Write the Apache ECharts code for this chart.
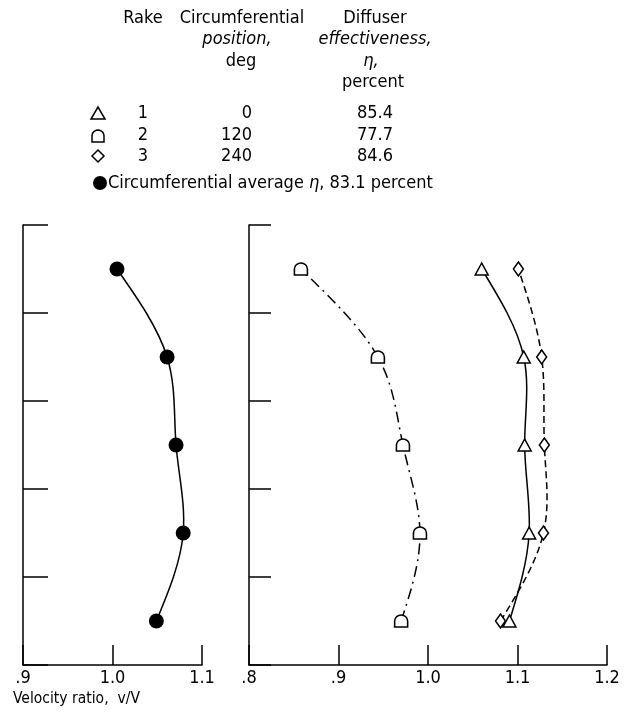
<!DOCTYPE html>
<html>
<head>
<meta charset="utf-8">
<script src="https://cdn.jsdelivr.net/npm/echarts@6/dist/echarts.min.js"></script>
<style>
  html, body { margin: 0; padding: 0; background: #fff; }
  #chart { width: 627px; height: 714px; }
</style>
</head>
<body>
<div id="chart"></div>
<script>
// survey stations (bottom to top), no labels on vertical axis
const stations = [0.5, 1.5, 2.5, 3.5, 4.5]
// velocity ratio v/V for each rake, bottom to top
const averageRatio = [1.049, 1.079, 1.071, 1.061, 1.005]
const rake1Ratio = [1.091, 1.113, 1.108, 1.107, 1.060]
const rake2Ratio = [0.970, 0.991, 0.972, 0.944, 0.858]
const rake3Ratio = [1.081, 1.129, 1.130, 1.127, 1.101]
// legend table
const rakes = ['1', '2', '3']
const positions = ['0', '120', '240']
const effectiveness = ['85.4', '77.7', '84.6']
const averageEta = '83.1'

const FONT = "'Liberation Sans Narrow', 'DejaVu Sans Condensed', sans-serif"
const pair = (xs) => xs.map((v, i) => [v, stations[i]])
const tickFmt = (v) => {
  const s = (Math.round(v * 10) / 10).toFixed(1)
  return v < 1 ? s.slice(1) : s
}

const dShape = 'path://M0,12 L0,6 A6,6 0 0 1 12,6 L12,12 Z'
const hollow = { color: '#fff', borderColor: '#000', borderWidth: 1.5, opacity: 1 }

function xAxisCfg(idx, min, max) {
  return {
    gridIndex: idx,
    type: 'value',
    min: min,
    max: max,
    interval: 0.1,
    axisLine: { lineStyle: { color: '#000', width: 1.5 } },
    axisTick: { inside: true, length: 20, lineStyle: { color: '#000', width: 1.5 } },
    axisLabel: { color: '#000', fontSize: 18, fontFamily: FONT, margin: 4, formatter: tickFmt },
    splitLine: { show: false }
  }
}
function yAxisCfg(idx, len) {
  return {
    gridIndex: idx,
    type: 'value',
    min: 0,
    max: 5,
    interval: 1,
    axisLine: { lineStyle: { color: '#000', width: 1.5 } },
    axisTick: { inside: true, length: len, lineStyle: { color: '#000', width: 1.5 } },
    axisLabel: { show: false },
    splitLine: { show: false }
  }
}

// faired curve: natural cubic spline x(y) through the projected points
function splineSlopes(px) {
  // px: [[x, y], ...] with y evenly spaced (pixel space)
  const n = px.length
  const h = px[1][1] - px[0][1]
  const M = new Array(n).fill(0)
  if (n > 2) {
    const a = [], b = [], c = [], d = []
    for (let i = 1; i < n - 1; i++) {
      a.push(1); b.push(4); c.push(1)
      d.push(6 * (px[i + 1][0] - 2 * px[i][0] + px[i - 1][0]) / (h * h))
    }
    const m = d.length
    for (let i = 1; i < m; i++) {
      const w = a[i] / b[i - 1]
      b[i] -= w * c[i - 1]
      d[i] -= w * d[i - 1]
    }
    const sol = new Array(m)
    sol[m - 1] = d[m - 1] / b[m - 1]
    for (let i = m - 2; i >= 0; i--) sol[i] = (d[i] - c[i] * sol[i + 1]) / b[i]
    for (let i = 0; i < m; i++) M[i + 1] = sol[i]
  }
  const s = []
  for (let i = 0; i < n; i++) {
    if (i < n - 1) s.push((px[i + 1][0] - px[i][0]) / h - h * (2 * M[i] + M[i + 1]) / 6)
    else s.push((px[i][0] - px[i - 1][0]) / h + h * (M[i - 1] + 2 * M[i]) / 6)
  }
  return { h: h, s: s }
}
function curveSeries(xs, idx, dash) {
  const pts = pair(xs)
  return {
    type: 'custom', xAxisIndex: idx, yAxisIndex: idx,
    data: pts, encode: { x: 0, y: 1 }, silent: true, z: 1,
    renderItem: function (params, api) {
      const i = params.dataIndex
      if (i >= pts.length - 1) return null
      const px = pts.map((p) => api.coord(p))
      const sp = splineSlopes(px)
      const h3 = sp.h / 3
      const p1 = px[i], p2 = px[i + 1]
      return {
        type: 'bezierCurve',
        shape: {
          x1: p1[0], y1: p1[1], x2: p2[0], y2: p2[1],
          cpx1: p1[0] + h3 * sp.s[i], cpy1: p1[1] + h3,
          cpx2: p2[0] - h3 * sp.s[i + 1], cpy2: p2[1] - h3
        },
        style: { stroke: '#000', fill: 'none', lineWidth: 1.5, lineDash: dash || null }
      }
    }
  }
}
function markerSeries(xs, idx, symbol, size, style) {
  return {
    type: 'scatter', xAxisIndex: idx, yAxisIndex: idx, z: 3,
    data: pair(xs), symbol: symbol, symbolSize: size, itemStyle: style
  }
}

// legend icons
function dPolygon(cx, cy, w, h) {
  const r = w / 2
  const pts = [[cx - r, cy + h / 2], [cx - r, cy + h / 2 - (h - r)]]
  for (let a = 180; a >= 0; a -= 15) {
    const t = a * Math.PI / 180
    pts.push([cx + r * Math.cos(t), cy + h / 2 - (h - r) - r * Math.sin(t)])
  }
  pts.push([cx + r, cy + h / 2])
  return pts
}
const txt = (x, y, s, opt) => Object.assign({
  type: 'text', x: x, y: y,
  style: Object.assign({ text: s, fill: '#000', font: '18px ' + FONT, textAlign: 'center', textVerticalAlign: 'middle' }, opt || {})
})
const italic = { font: 'italic 18px ' + FONT }

const graphics = [
  txt(143, 18, 'Rake'),
  txt(242, 18, 'Circumferential'),
  txt(237, 39, 'position,', italic),
  txt(241, 61, 'deg'),
  txt(375, 18, 'Diffuser'),
  txt(375, 39, 'effectiveness,', italic),
  txt(371, 61, 'η,', italic),
  txt(373, 82, 'percent'),
  { type: 'polygon', shape: { points: [[91, 119], [105, 119], [98, 107]] }, style: { fill: '#fff', stroke: '#000', lineWidth: 1.5 } },
  { type: 'polygon', shape: { points: dPolygon(98, 136, 12, 12) }, style: { fill: '#fff', stroke: '#000', lineWidth: 1.5 } },
  { type: 'polygon', shape: { points: [[98, 150], [104, 156], [98, 162], [92, 156]] }, style: { fill: '#fff', stroke: '#000', lineWidth: 1.5 } },
  { type: 'circle', shape: { cx: 100, cy: 183, r: 7 }, style: { fill: '#000' } },
  {
    type: 'text', x: 108, y: 183,
    style: {
      text: '{a|Circumferential average }{b|η}{a|, ' + averageEta + ' percent}',
      textVerticalAlign: 'middle',
      rich: {
        a: { font: '18px ' + FONT, fill: '#000' },
        b: { font: 'italic 18px ' + FONT, fill: '#000' }
      }
    }
  },
  txt(13, 699, 'Velocity ratio,  v/V', { textAlign: 'left', font: '15.5px ' + FONT })
]
const rowY = [113, 135, 156]
rakes.forEach((r, i) => {
  graphics.push(txt(143, rowY[i], r))
  graphics.push(txt(252, rowY[i], positions[i], { textAlign: 'right' }))
  graphics.push(txt(375, rowY[i], effectiveness[i]))
})

const chart = echarts.init(document.getElementById('chart'))
chart.setOption({
  animation: false,
  backgroundColor: '#fff',
  grid: [
    { left: 23, top: 225, width: 179, height: 440 },
    { left: 249, top: 225, width: 358, height: 440 }
  ],
  xAxis: [xAxisCfg(0, 0.9, 1.1), xAxisCfg(1, 0.8, 1.2)],
  yAxis: [yAxisCfg(0, 25), yAxisCfg(1, 22)],
  graphic: graphics,
  series: [
    curveSeries(averageRatio, 0),
    curveSeries(rake2Ratio, 1, [11, 5, 2, 5]),
    curveSeries(rake1Ratio, 1),
    curveSeries(rake3Ratio, 1, [7, 4]),
    markerSeries(averageRatio, 0, 'circle', 15, { color: '#000', opacity: 1 }),
    markerSeries(rake2Ratio, 1, dShape, [13, 12], hollow),
    markerSeries(rake1Ratio, 1, 'triangle', [13, 12], hollow),
    markerSeries(rake3Ratio, 1, 'diamond', [10, 14], hollow)
  ]
})
</script>
</body>
</html>
